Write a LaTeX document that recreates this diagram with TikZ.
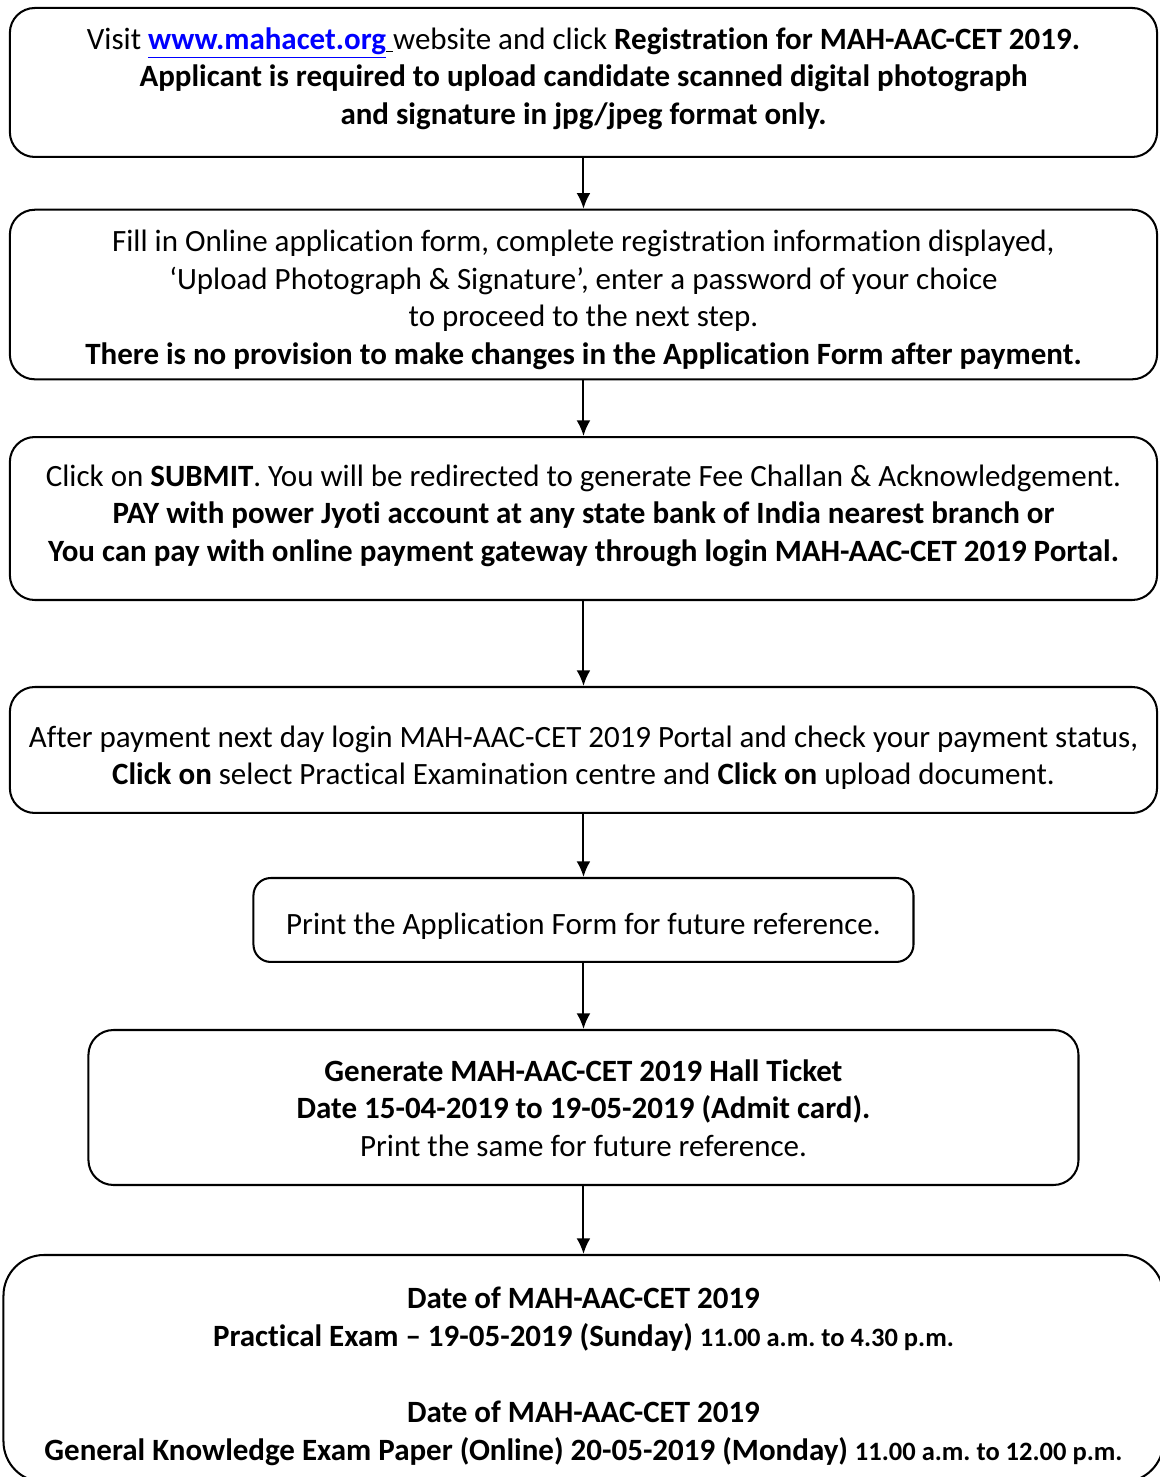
\documentclass[tikz,border=0pt]{standalone}
\usepackage{fontspec}
\setmainfont{Carlito}[RawFeature={-liga;-clig;-calt;-dlig}]
\usepackage{tikz}
\usetikzlibrary{arrows.meta}
\definecolor{link_blue}{RGB}{0, 0, 255}
% struts that push the text of a box down by #1
\newcommand{\toppad}[1]{\rule{0pt}{\dimexpr18pt+#1\relax}}
\newcommand{\botpad}[1]{\rule[\dimexpr-10pt+#1\relax]{0pt}{\dimexpr10pt-#1\relax}}
\tikzstyle{step_box}=[draw=black,line width=1pt,rounded corners=0.43cm,
  align=center,inner sep=0pt,font=\fontsize{15.2}{18.4}\selectfont\frenchspacing]
\tikzstyle{flow}=[draw=black,line width=1pt,-{Latex[length=0.27cm,width=0.24cm]}]
\tikzstyle{none}=[]

\begin{document}
\begin{tikzpicture}
            \useasboundingbox (0, 0) rectangle (20, -25.466);
            \clip (0, 0) rectangle (20, -25.466);
            \node [style=step_box, minimum width=19.78cm, minimum height=2.569cm] (0) at (10.06, -1.422) {\toppad{-2pt}Visit \textcolor{link_blue}{\underline{\textbf{www.mahacet.org}}}\underline{\ }website and click \textbf{Registration for MAH-AAC-CET 2019.}\\ \textbf{Applicant is required to upload candidate scanned digital photograph}\\ \textbf{and signature in jpg/jpeg format only.}\botpad{-2pt}};
            \node [style=step_box, minimum width=19.78cm, minimum height=2.81cm] (1) at (10.06, -5.078) {\toppad{2.6pt}Fill in Online application form, complete registration information displayed,\\ ‘Upload Photograph \& Signature’, enter a password of your choice\\ to proceed to the next step.\\ \textbf{There is no provision to make changes in the Application Form after payment.}\botpad{2.6pt}};
            \node [style=step_box, minimum width=19.78cm, minimum height=2.81cm] (2) at (10.06, -8.94) {\toppad{-1.5pt}Click on \textbf{SUBMIT}. You will be redirected to generate Fee Challan \& Acknowledgement.\\ \textbf{PAY with power Jyoti account at any state bank of India nearest branch or}\\ \textbf{You can pay with online payment gateway through login MAH-AAC-CET 2019 Portal.}\botpad{-1.5pt}};
            \node [style=step_box, minimum width=19.78cm, minimum height=2.172cm] (3) at (10.06, -12.931) {\toppad{3.9pt}After payment next day login MAH-AAC-CET 2019 Portal and check your payment status,\\ \textbf{Click on} select Practical Examination centre and \textbf{Click on} upload document.\botpad{3.9pt}};
            \node [style=step_box, rounded corners=0.3cm, minimum width=11.38cm, minimum height=1.448cm] (4) at (10.06, -15.862) {\toppad{2.9pt}Print the Application Form for future reference.\botpad{2.9pt}};
            \node [style=step_box, minimum width=17.07cm, minimum height=2.672cm] (5) at (10.06, -19.095) {\toppad{1.5pt}\textbf{Generate MAH-AAC-CET 2019 Hall Ticket}\\ \textbf{Date 15-04-2019 to 19-05-2019 (Admit card).}\\ Print the same for future reference.\botpad{1.5pt}};
            \node [style=step_box, rounded corners=0.7cm, minimum width=20cm, minimum height=3.914cm, font=\fontsize{15.2}{18.6}\selectfont\frenchspacing] (6) at (10.06, -23.595) {\toppad{3.9pt}\textbf{Date of MAH-AAC-CET 2019}\\ \textbf{Practical Exam – 19-05-2019 (Sunday) {\fontsize{13}{18.6}\selectfont 11.00 a.m. to 4.30 p.m.}}\\[18.6pt] \textbf{Date of MAH-AAC-CET 2019}\\ \textbf{General Knowledge Exam Paper (Online) 20-05-2019 (Monday) {\fontsize{13}{18.6}\selectfont 11.00 a.m. to 12.00 p.m.}}\botpad{3.9pt}};
            \draw [style=flow] (0) to (1);
            \draw [style=flow] (1) to (2);
            \draw [style=flow] (2) to (3);
            \draw [style=flow] (3) to (4);
            \draw [style=flow] (4) to (5);
            \draw [style=flow] (5) to (6);
    \end{tikzpicture}
\end{document}
